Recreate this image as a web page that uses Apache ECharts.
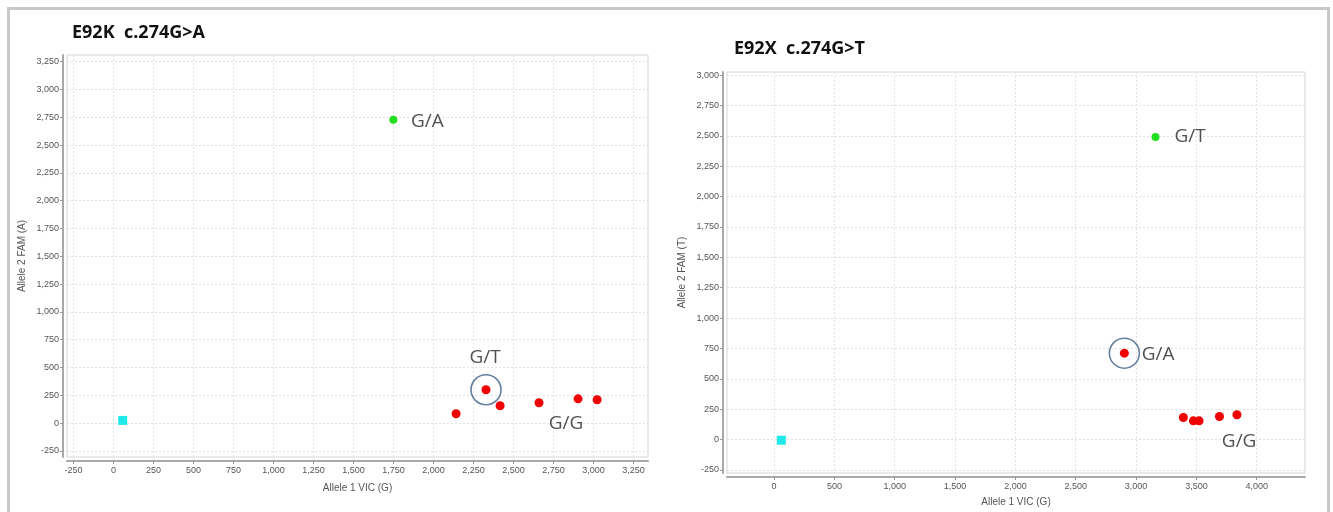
<!DOCTYPE html>
<html>
<head>
<meta charset="utf-8">
<script src="https://cdn.jsdelivr.net/npm/echarts@6/dist/echarts.min.js"></script>
<style>
html,body{margin:0;padding:0;background:#fff;}
#chart{width:1333px;height:512px;}
</style>
</head>
<body>
<div id="chart"></div>
<script>
// ---- Data ----
const leftTitle = 'E92K  c.274G>A';
const rightTitle = 'E92X  c.274G>T';
const leftXName = 'Allele 1 VIC (G)';
const leftYName = 'Allele 2 FAM (A)';
const rightXName = 'Allele 1 VIC (G)';
const rightYName = 'Allele 2 FAM (T)';

const leftXTicks = [-250,0,250,500,750,1000,1250,1500,1750,2000,2250,2500,2750,3000,3250];
const leftYTicks = [-250,0,250,500,750,1000,1250,1500,1750,2000,2250,2500,2750,3000,3250];
const rightXTicks = [0,500,1000,1500,2000,2500,3000,3500,4000];
const rightYTicks = [-250,0,250,500,750,1000,1250,1500,1750,2000,2250,2500,2750,3000];

// left plot (E92K)
const leftRed = [[2141,84],[2416,156],[2659,183],[2903,218],[3022,210]];
const leftCircled = [[2328,300]];
const leftGreen = [[1749,2728]];
const leftCyan = [[58,24]];
const leftLabels = [['G/A',1962,2708],['G/T',2322,587],['G/G',2828,-6]];

// right plot (E92X)
const rightRed = [[3392,182],[3475,154],[3522,154],[3691,190],[3836,204]];
const rightCircled = [[2903,711]];
const rightGreen = [[3161,2490]];
const rightCyan = [[60,-5]];
const rightLabels = [['G/T',3448,2494],['G/A',3182,697],['G/G',3854,-18]];

// ---- Chart ----
const fmt = v => Number(v).toLocaleString('en-US');
const labelFont = 'Liberation Sans, Arial, sans-serif';

function xAxis(gridIndex, min, max, ticks, name, gap) {
  return {
    type:'value', gridIndex, min, max, name, nameLocation:'middle', nameGap:gap,
    nameTextStyle:{color:'#555', fontSize:10, fontFamily:labelFont},
    offset:4,
    axisLine:{show:true, onZero:false, lineStyle:{color:'#a8a8a8', width:2}},
    axisTick:{show:true, length:3, customValues:ticks, lineStyle:{color:'#999'}},
    axisLabel:{customValues:ticks, formatter:fmt, color:'#555', fontSize:9, fontFamily:labelFont, margin:5},
    splitLine:{show:true, lineStyle:{color:'#e2e2e2', type:[2,2]}}
  };
}
function yAxis(gridIndex, min, max, ticks, name, gap) {
  return {
    type:'value', gridIndex, min, max, name, nameLocation:'middle', nameGap:gap,
    nameTextStyle:{color:'#555', fontSize:10, fontFamily:labelFont},
    offset:4,
    axisLine:{show:true, onZero:false, lineStyle:{color:'#a8a8a8', width:2}},
    axisTick:{show:true, length:3, customValues:ticks, lineStyle:{color:'#999'}},
    axisLabel:{customValues:ticks, formatter:fmt, color:'#555', fontSize:9, fontFamily:labelFont, margin:4},
    splitLine:{show:true, lineStyle:{color:'#e2e2e2', type:[2,2]}}
  };
}
function pts(idx, data, color, symbol, size) {
  return {type:'scatter', xAxisIndex:idx, yAxisIndex:idx, data, symbol, symbolSize:size,
    itemStyle:{color, opacity:1}, z:3, silent:true};
}
function circle(idx, data) {
  return {type:'scatter', xAxisIndex:idx, yAxisIndex:idx, data, symbol:'circle', symbolSize:30,
    itemStyle:{color:'rgba(0,0,0,0)', borderColor:'#40608a', borderWidth:1.6}, z:4, silent:true};
}
function labels(idx, arr) {
  return {type:'scatter', xAxisIndex:idx, yAxisIndex:idx, symbolSize:1, silent:true,
    itemStyle:{color:'rgba(0,0,0,0)'}, z:5,
    data: arr.map(a => ({name:a[0], value:[a[1],a[2]]})),
    label:{show:true, position:'inside', formatter:p => p.name, color:'#262626', fontSize:19,
      fontFamily:'Open Sans, Noto Sans, sans-serif'}};
}

const chart = echarts.init(document.getElementById('chart'), null, {renderer:'canvas'});
chart.setOption({
  animation:false,
  backgroundColor:'#fff',
  graphic:[{type:'rect', shape:{x:8.5, y:8.5, width:1320, height:520}, style:{fill:'none', stroke:'#c8c8c8', lineWidth:3}, silent:true}],
  title:[
    {text:leftTitle, left:67, top:19, textStyle:{fontSize:18, fontWeight:'bold', color:'#111', fontFamily:'Open Sans, Noto Sans, sans-serif'}},
    {text:rightTitle, left:729, top:35, textStyle:{fontSize:18, fontWeight:'bold', color:'#111', fontFamily:'Open Sans, Noto Sans, sans-serif'}}
  ],
  grid:[
    {left:67, top:55, width:581, height:402, show:true, borderColor:'#d4d4d4', borderWidth:1, backgroundColor:'#fff'},
    {left:727, top:72, width:578, height:401, show:true, borderColor:'#d4d4d4', borderWidth:1, backgroundColor:'#fff'}
  ],
  xAxis:[
    xAxis(0, -290, 3340, leftXTicks, leftXName, 22),
    xAxis(1, -390, 4400, rightXTicks, rightXName, 20)
  ],
  yAxis:[
    yAxis(0, -305, 3310, leftYTicks, leftYName, 36),
    yAxis(1, -275, 3025, rightYTicks, rightYName, 36)
  ],
  series:[
    pts(0, leftCyan, '#1ee8e8', 'rect', 9),
    pts(0, leftGreen, '#22dd22', 'circle', 8),
    pts(0, leftRed, '#f00000', 'circle', 9),
    pts(0, leftCircled, '#f00000', 'circle', 9),
    circle(0, leftCircled),
    labels(0, leftLabels),
    pts(1, rightCyan, '#1ee8e8', 'rect', 9),
    pts(1, rightGreen, '#22dd22', 'circle', 8),
    pts(1, rightRed, '#f00000', 'circle', 9),
    pts(1, rightCircled, '#f00000', 'circle', 9),
    circle(1, rightCircled),
    labels(1, rightLabels)
  ]
});
</script>
</body>
</html>
